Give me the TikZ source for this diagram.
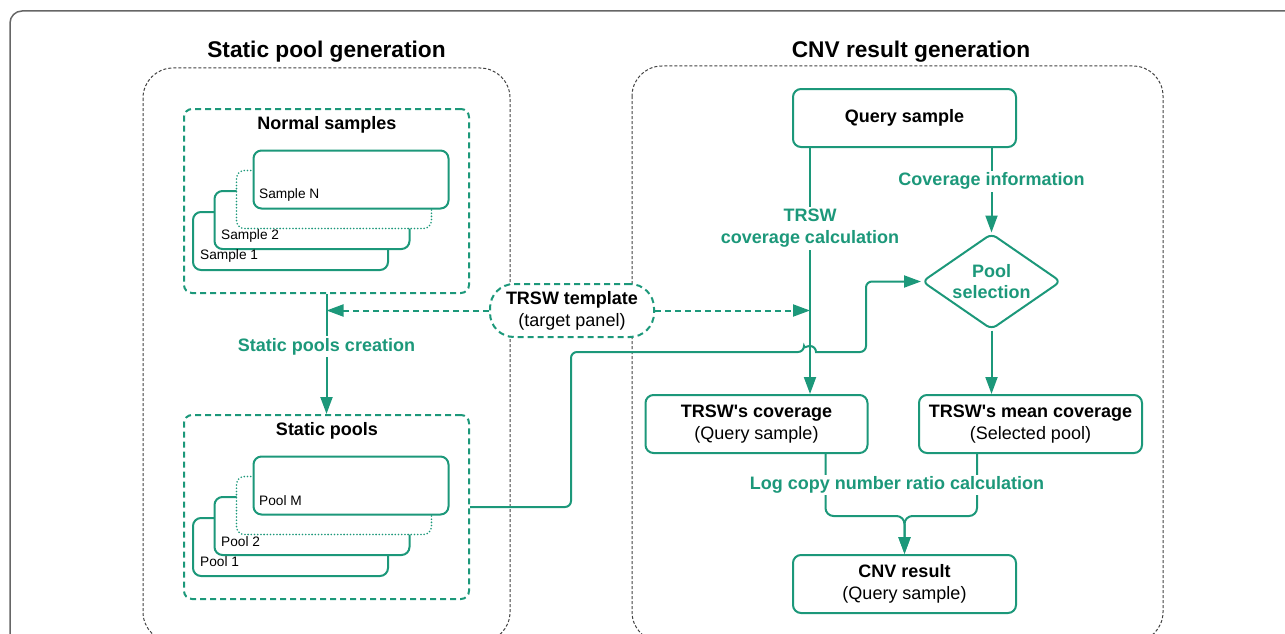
\documentclass[tikz,border=0pt]{standalone}
\usepackage{fontspec}
\setmainfont{Liberation Sans}
\usepackage{tikz}
\usetikzlibrary{arrows.meta,shapes.geometric,calc}
\definecolor{trswgreen}{RGB}{28,152,122}
\newcommand{\mainsz}{\fontsize{18}{22}\selectfont}
\newcommand{\cardsz}{\fontsize{13.7}{16}\selectfont}
\newcommand{\titlesz}{\fontsize{22.7}{27}\selectfont}

\tikzset{
  box/.style={draw=trswgreen, line width=2pt, rounded corners=8pt, fill=white,
    align=center, inner sep=0pt, font=\mainsz, minimum width=223pt, minimum height=58pt},
  group/.style={draw=trswgreen, line width=2pt, dash pattern=on 6pt off 4pt,
    rounded corners=8pt, minimum width=285pt, minimum height=184pt, inner sep=0pt},
  card/.style={draw=trswgreen, line width=2pt, rounded corners=8pt, fill=white,
    minimum width=195pt, minimum height=58pt, inner sep=0pt},
  ghost/.style={card, line width=1.8pt, line cap=round, dash pattern=on 0pt off 3.2pt},
  cardtext/.style={anchor=west, font=\cardsz, inner sep=0pt},
  flow/.style={draw=trswgreen, line width=2pt},
  arr/.style={-{Triangle[length=17pt,width=12pt]}},
  lbl/.style={text=trswgreen, font=\bfseries\mainsz, fill=white, align=center, inner sep=2pt},
  panel/.style={draw=black!75, line width=1pt, dash pattern=on 3pt off 2pt, rounded corners=30pt},
}

\begin{document}
\begin{tikzpicture}[x=1pt,y=-1pt]
  \useasboundingbox (0,0) rectangle (1285,634);
  \draw[black!60, line width=1.5pt, rounded corners=12pt] (10,11) rectangle (1310,660);

  % the two panels
  \draw[panel] (143,68) rectangle (510,642);
  \draw[panel] (632,66) rectangle (1163,642);
  \node[font=\bfseries\titlesz] (lefttitle) at (326.5,52) {Static pool generation};
  \node[font=\bfseries\titlesz] (righttitle) at (911,52) {CNV result generation};

  % stacks of samples and pools
  \node[group] (normal) at (326.5,201) {};
  \node[group] (pools) at (326.5,507) {};
  \node[font=\bfseries\mainsz] (normaltitle) at (327,125) {Normal samples};
  \node[font=\bfseries\mainsz] (poolstitle) at (327,431) {Static pools};
  \foreach \dy/\one/\two/\last in {0/Sample 1/Sample 2/Sample N, 306/Pool 1/Pool 2/Pool M} {
    \node[card] (first\dy) at (290.5,241+\dy) {};
    \node[card] (second\dy) at (312,220+\dy) {};
    \node[ghost] (dots\dy) at (334,199.5+\dy) {};
    \node[card] (last\dy) at (351,179.5+\dy) {};
    \node[cardtext] (firsttext\dy) at (200,256+\dy) {\one};
    \node[cardtext] (secondtext\dy) at (221,236+\dy) {\two};
    \node[cardtext] (lasttext\dy) at (259,195+\dy) {\last};
  }

  \node[draw=trswgreen, line width=2pt, dash pattern=on 6pt off 4pt, rounded corners=24pt,
    fill=white, minimum width=164pt, minimum height=53pt, align=center, font=\mainsz,
    inner sep=0pt] (tmpl) at (572,310.5) {\textbf{TRSW template}\\(target panel)};

  % right panel
  \node[box] (query) at (904.5,118) {\textbf{Query sample}};
  \node[box, minimum width=222pt] (tcov) at (756.5,424)
    {\textbf{TRSW\textquotesingle s coverage}\\(Query sample)};
  \node[box] (mcov) at (1030.5,424)
    {\textbf{TRSW\textquotesingle s mean coverage}\\(Selected pool)};
  \node[box] (cnv) at (904.5,584) {\textbf{CNV result}\\(Query sample)};
  \node[diamond, draw=trswgreen, line width=2pt, rounded corners=6pt, aspect=1.45,
    minimum width=139pt, minimum height=96pt, inner sep=0pt, align=center,
    text=trswgreen, font=\bfseries\mainsz] (pool) at (991.5,281.5) {Pool\\[-1pt]selection};

  \coordinate (qleft) at (810,147);
  \coordinate (qright) at (991.5,147);

  \draw[flow,arr] (normal) -- node[lbl,pos=0.44] {Static pools creation} (pools);
  \draw[flow,arr,dash pattern=on 6pt off 4pt] (tmpl.west) -- (normal.south |- tmpl.west);
  \draw[flow,arr,dash pattern=on 6pt off 4pt] (tmpl.east) -- (tmpl.east -| qleft);

  \draw[flow,arr] (qleft) -- node[lbl,pos=0.33] {TRSW\\coverage calculation} (qleft |- tcov.north);
  \draw[flow,arr] (qright) -- node[lbl,pos=0.4] {Coverage information} (pool.north);
  \draw[flow,arr] (pool.south) -- (pool.south |- mcov.north);

  \draw[flow,arr,rounded corners=6pt] (pools.east) -- (571,507) -- (571,352) -- (804,352)
    [sharp corners] arc (180:360:6) [rounded corners=6pt] -- (866,352) -- (866,281.5) -- (pool.west);

  \draw[flow,arr,rounded corners=8pt] ($(tcov.south east)+(-43,0)$) |- ($(cnv.north)+(0,-38)$) -- (cnv.north);
  \draw[flow,arr,rounded corners=8pt] ($(mcov.south west)+(59,0)$) |- ($(cnv.north)+(0,-38)$) -- (cnv.north);
  \node[lbl] (logratio) at (897,485) {Log copy number ratio calculation};
\end{tikzpicture}
\end{document}
